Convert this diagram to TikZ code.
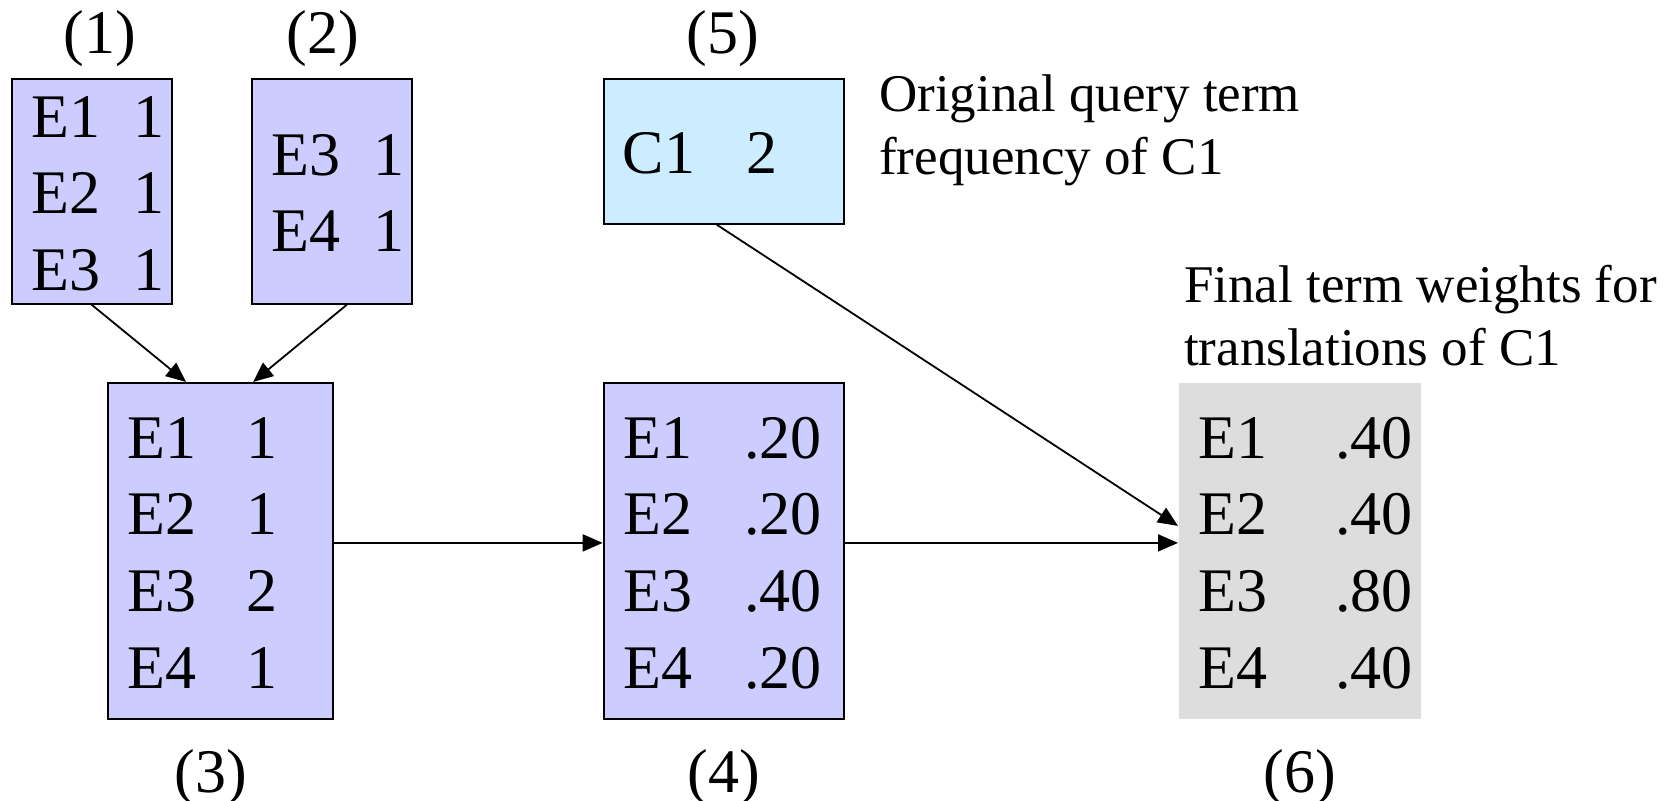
\documentclass[tikz,border=0pt]{standalone}
\usepackage{fontspec}
\setmainfont{Liberation Serif}
\usetikzlibrary{arrows.meta}
\definecolor{lavfill}{RGB}{204,204,255}
\definecolor{skyfill}{RGB}{204,236,255}
\definecolor{greyfill}{RGB}{221,221,221}
% two-column term table: #1 = gap between columns (pt), #2 = rows
\newcommand{\termrows}[2]{\begin{tabular}[t]{@{}l@{\hspace{#1pt}}l@{}}#2\end{tabular}}
\begin{document}
\begin{tikzpicture}[x=1pt,y=-1pt,
  box/.style={rectangle, draw=black, line width=1.8pt, inner sep=0pt, anchor=north west},
  rows/.style={anchor=base west, inner sep=0pt, font=\fontsize{62}{76.7}\selectfont},
  tag/.style={anchor=base, inner sep=0pt, font=\fontsize{62}{76.7}\selectfont},
  note/.style={anchor=base west, inner sep=0pt, font=\fontsize{53}{63}\selectfont},
  link/.style={line width=1.8pt, -{Triangle[length=20pt,width=17pt]}}]
\useasboundingbox (0,0) rectangle (1669,800);

% boxes
\node[box, fill=lavfill, minimum width=160.3pt, minimum height=225pt] (b1) at (10.7,78) {};
\node[box, fill=lavfill, minimum width=160.3pt, minimum height=225pt] (b2) at (250.7,78) {};
\node[box, fill=lavfill, minimum width=225pt, minimum height=336pt] (b3) at (106.7,382) {};
\node[box, fill=lavfill, minimum width=240.3pt, minimum height=336pt] (b4) at (602.7,382) {};
\node[box, fill=skyfill, minimum width=240pt, minimum height=145pt] (b5) at (603,78) {};
\node[box, draw=none, fill=greyfill, minimum width=242pt, minimum height=336pt] (b6) at (1178,382) {};

% box contents
\node[rows] (r1) at (31.2,137) {\termrows{33}{E1 & 1\\ E2 & 1\\ E3 & 1}};
\node[rows] (r2) at (271.2,175) {\termrows{33}{E3 & 1\\ E4 & 1}};
\node[rows] (r3) at (127.2,458) {\termrows{50}{E1 & 1\\ E2 & 1\\ E3 & 2\\ E4 & 1}};
\node[rows] (r4) at (623.2,458) {\termrows{52}{E1 & .20\\ E2 & .20\\ E3 & .40\\ E4 & .20}};
\node[rows] (r5) at (622.5,173) {\termrows{51.5}{C1 & 2}};
\node[rows] (r6) at (1198.5,458) {\termrows{67.7}{E1 & .40\\ E2 & .40\\ E3 & .80\\ E4 & .40}};

% step numbers
\node[tag] (n1) at (100,54) {(1)};
\node[tag] (n2) at (323,54) {(2)};
\node[tag] (n5) at (723,54) {(5)};
\node[tag] (n3) at (211,792) {(3)};
\node[tag] (n4) at (724,792) {(4)};
\node[tag] (n6) at (1300,792) {(6)};

% annotations
\node[note] (q) at (879,111) {\begin{tabular}[t]{@{}l@{}}Original query term\\ frequency of C1\end{tabular}};
\node[note] (w) at (1184,302) {\begin{tabular}[t]{@{}l@{}}Final term weights for\\ translations of C1\end{tabular}};

% connectors
\draw[link] (b1.south) -- ([xshift=-34pt]b3.north);
\draw[link] ([xshift=15pt]b2.south) -- ([xshift=33pt]b3.north);
\draw[link] ([yshift=8pt]b3.east) -- ([yshift=8pt]b4.west);
\draw[link] ([yshift=8pt]b4.east) -- ([yshift=8pt]b6.west);
\draw[link] ([xshift=-7pt]b5.south) -- ([yshift=25pt]b6.west);
\end{tikzpicture}
\end{document}
